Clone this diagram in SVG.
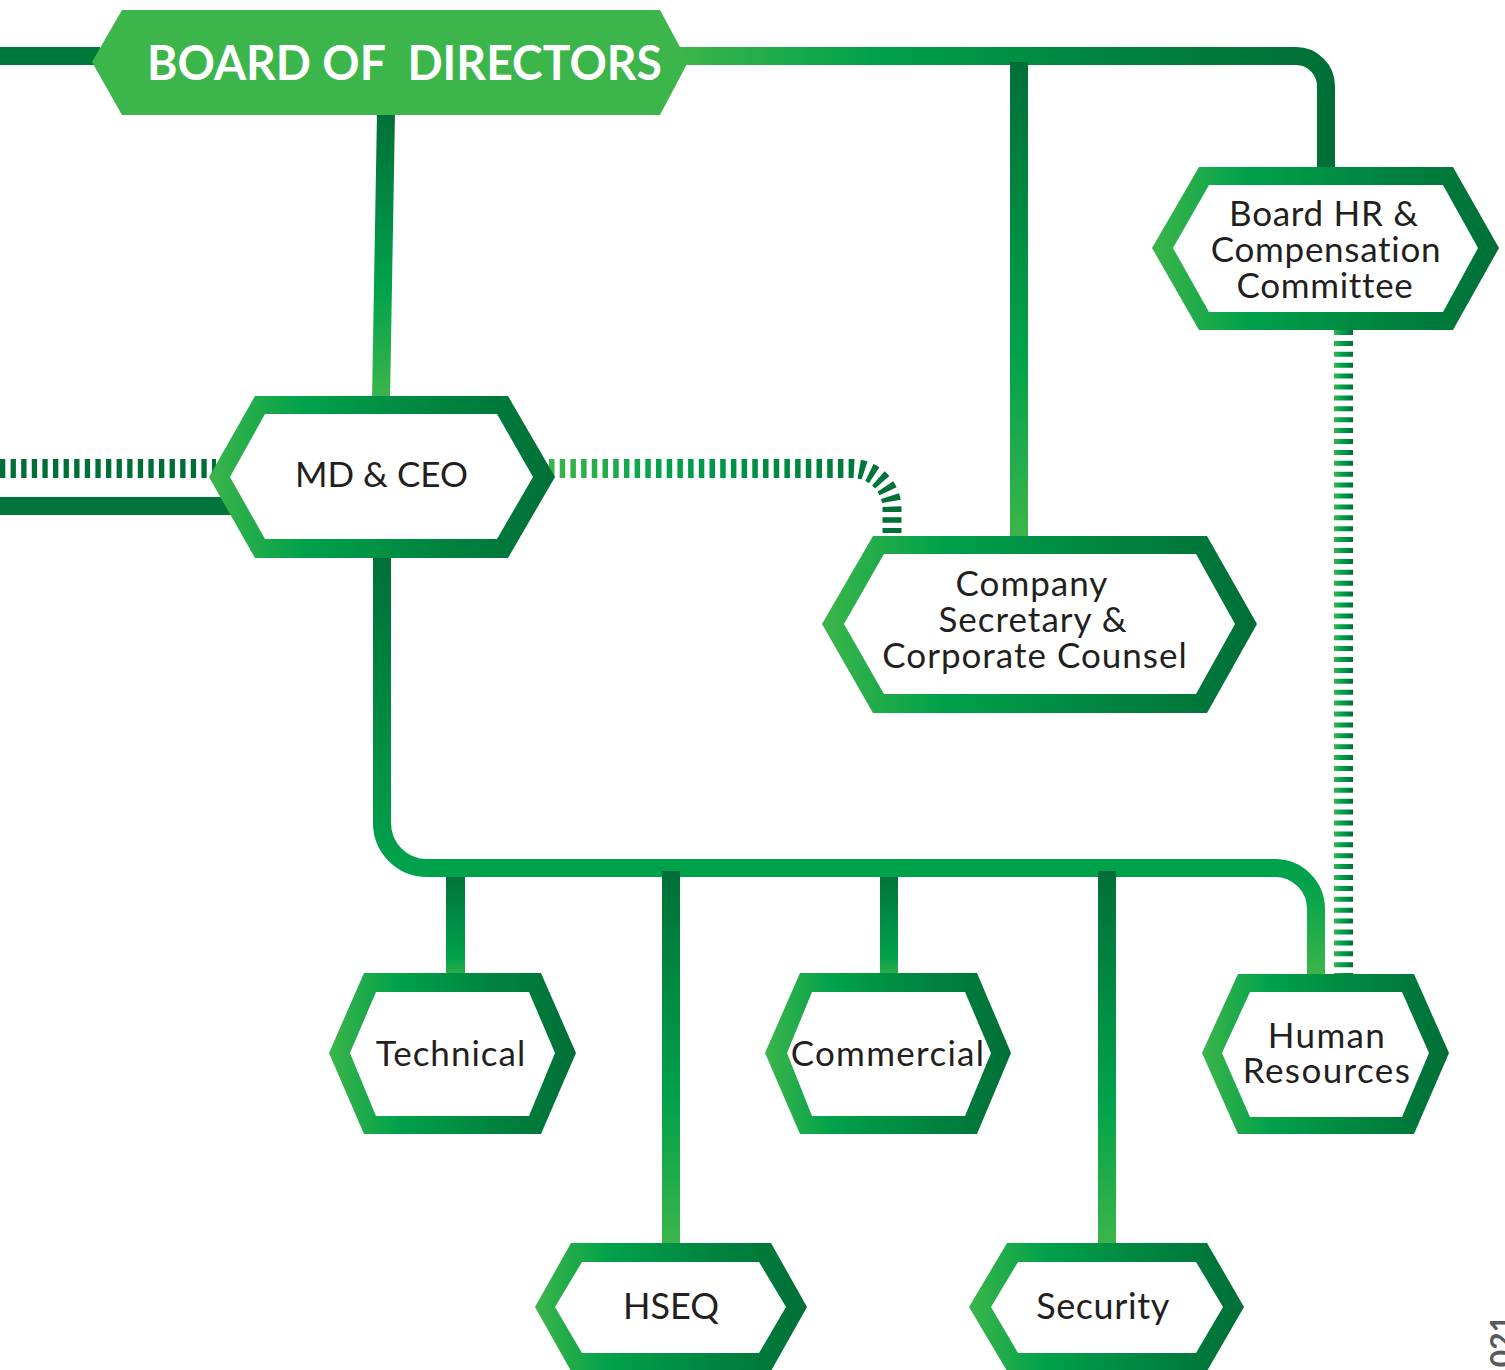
<svg xmlns="http://www.w3.org/2000/svg" width="1505" height="1370" viewBox="0 0 1505 1370">
<defs>
<linearGradient id="hexg" x1="0" y1="0" x2="1" y2="0">
<stop offset="0" stop-color="#3cb54a"/>
<stop offset="0.28" stop-color="#00a14b"/>
<stop offset="0.65" stop-color="#00853f"/>
<stop offset="1" stop-color="#006f37"/>
</linearGradient>
<linearGradient id="vdl" x1="0" y1="0" x2="0" y2="1">
<stop offset="0" stop-color="#006f37"/>
<stop offset="0.6" stop-color="#00a14b"/>
<stop offset="1" stop-color="#3cb54a"/>
</linearGradient>
<linearGradient id="vdg" x1="0" y1="0" x2="0" y2="1">
<stop offset="0" stop-color="#00743a"/>
<stop offset="0.8" stop-color="#00a14b"/>
<stop offset="1" stop-color="#2fb04a"/>
</linearGradient>
<linearGradient id="topline" gradientUnits="userSpaceOnUse" x1="680" y1="0" x2="1330" y2="0">
<stop offset="0" stop-color="#3cb54a"/>
<stop offset="0.3" stop-color="#00a14b"/>
<stop offset="0.65" stop-color="#00843e"/>
<stop offset="1" stop-color="#006f37"/>
</linearGradient>
<linearGradient id="bus" gradientUnits="userSpaceOnUse" x1="0" y1="555" x2="0" y2="975">
<stop offset="0" stop-color="#006f37"/>
<stop offset="0.72" stop-color="#00a14b"/>
<stop offset="0.77" stop-color="#00a14b"/>
<stop offset="1" stop-color="#3cb54a"/>
</linearGradient>
<linearGradient id="dashr" gradientUnits="userSpaceOnUse" x1="549" y1="0" x2="900" y2="0">
<stop offset="0" stop-color="#3cb54a"/>
<stop offset="0.35" stop-color="#00a14b"/>
<stop offset="1" stop-color="#006f37"/>
</linearGradient>
<linearGradient id="dashv" gradientUnits="userSpaceOnUse" x1="1334" y1="0" x2="1353" y2="0">
<stop offset="0" stop-color="#3cb54a"/>
<stop offset="0.4" stop-color="#00a14b"/>
<stop offset="1" stop-color="#006f37"/>
</linearGradient>
<style>
.ring{fill:url(#hexg)}
.inner{fill:#ffffff}
.lbl{font-family:Lato,"Liberation Sans",sans-serif;fill:#231f20;text-anchor:middle;font-size:35px;letter-spacing:1px}
.dash{fill:none;stroke-width:19}
</style>
</defs>

<g id="connectors">
<rect x="0" y="47" width="100" height="18" fill="#00793d"/>
<path d="M680 56 H1296 A30 30 0 0 1 1326 86 V172" fill="none" stroke="url(#topline)" stroke-width="18"/>
<rect x="1010" y="62" width="18" height="478" fill="url(#vdl)"/>
<polygon points="377,112 395,112 390,400 372,400" fill="url(#vdl)"/>
<rect x="0" y="497" width="232" height="18" fill="#00743a"/>
<line x1="0" y1="468.5" x2="216" y2="468.5" class="dash" stroke="#006f37" stroke-dasharray="5.3 5.3"/>
<path d="M549 468.5 H852 A40 40 0 0 1 892 508.5 V533" class="dash" stroke="url(#dashr)" stroke-dasharray="5.5 5.2"/>
<line x1="1343.5" y1="330" x2="1343.5" y2="980" class="dash" stroke="url(#dashv)" stroke-dasharray="5 5.9"/>
<path d="M382 555 V823 A45 45 0 0 0 427 868 H1275 A41 41 0 0 1 1316 909 V978" fill="none" stroke="url(#bus)" stroke-width="18"/>
<rect x="446" y="877" width="19" height="99" fill="url(#vdg)"/>
<rect x="880" y="877" width="18" height="99" fill="url(#vdg)"/>
<rect x="662" y="871" width="18" height="376" fill="url(#vdl)"/>
<rect x="1098" y="871" width="18" height="376" fill="url(#vdl)"/>
</g>

<g id="node-board">
<polygon points="92,62 122,10 660,10 688,62 660,115 122,115" fill="#3cb54a"/>
<text x="404.5" y="80" xml:space="preserve" font-family="Lato,'Liberation Sans',sans-serif" font-weight="bold" font-size="47" fill="#ffffff" text-anchor="middle" textLength="515" lengthAdjust="spacingAndGlyphs">BOARD OF  DIRECTORS</text>
</g>

<g id="node-mdceo">
<polygon class="ring" points="209,477 255,396 508,396 555,477 508,558 255,558"/>
<polygon class="inner" points="230,477 265,414 497,414 533,477 497,539 265,539"/>
<text class="lbl" x="381.5" y="487" style="letter-spacing:0">MD &amp; CEO</text>
</g>

<g id="node-hrcomm">
<polygon class="ring" points="1152,248 1199,167 1453,167 1499,248 1453,330 1199,330"/>
<polygon class="inner" points="1173,248 1209,185 1443,185 1478,248 1443,312 1209,312"/>
<text class="lbl" style="letter-spacing:0.7px"><tspan x="1324" y="226">Board HR &amp;</tspan><tspan x="1326" y="262">Compensation</tspan><tspan x="1325" y="298">Committee</tspan></text>
</g>

<g id="node-cosec">
<polygon class="ring" points="822,624 873,536 1207,536 1257,624 1207,713 873,713"/>
<polygon class="inner" points="844,624 884,554 1196,554 1235,624 1196,694 884,694"/>
<text class="lbl"><tspan x="1032" y="596">Company</tspan><tspan x="1033" y="632">Secretary &amp;</tspan><tspan x="1035" y="668">Corporate Counsel</tspan></text>
</g>

<g id="node-technical">
<polygon class="ring" points="329,1053 364,973 541,973 576,1053 541,1134 364,1134"/>
<polygon class="inner" points="350,1053 376,992 529,992 555,1053 529,1116 376,1116"/>
<text class="lbl" x="451" y="1066">Technical</text>
</g>

<g id="node-commercial">
<polygon class="ring" points="765,1053 800,973 977,973 1011,1053 977,1134 800,1134"/>
<polygon class="inner" points="787,1053 812,992 965,992 991,1053 965,1116 812,1116"/>
<text class="lbl" x="888" y="1066" style="letter-spacing:1.3px">Commercial</text>
</g>

<g id="node-hr">
<polygon class="ring" points="1202,1053 1238,974 1414,974 1449,1053 1414,1134 1238,1134"/>
<polygon class="inner" points="1222,1053 1250,992 1402,992 1429,1053 1402,1117 1250,1117"/>
<text class="lbl" style="letter-spacing:1.4px"><tspan x="1327" y="1048">Human</tspan><tspan x="1327" y="1083">Resources</tspan></text>
</g>

<g id="node-hseq">
<polygon class="ring" points="535,1307 571,1243 771,1243 807,1307 771,1371 571,1371"/>
<polygon class="inner" points="555,1307 582,1262 759,1262 786,1307 759,1353 582,1353"/>
<text class="lbl" x="671" y="1319" style="font-size:36px;letter-spacing:0">HSEQ</text>
</g>

<g id="node-security">
<polygon class="ring" points="969,1307 1007,1243 1207,1243 1244,1307 1207,1371 1007,1371"/>
<polygon class="inner" points="991,1307 1018,1262 1196,1262 1223,1307 1196,1353 1018,1353"/>
<text class="lbl" x="1103" y="1319" style="font-size:36px;letter-spacing:0.6px">Security</text>
</g>

<text transform="translate(1512,1315) rotate(-90)" font-family="Lato,'Liberation Sans',sans-serif" font-weight="bold" font-size="30" fill="#58595b" text-anchor="end">021</text>
</svg>
